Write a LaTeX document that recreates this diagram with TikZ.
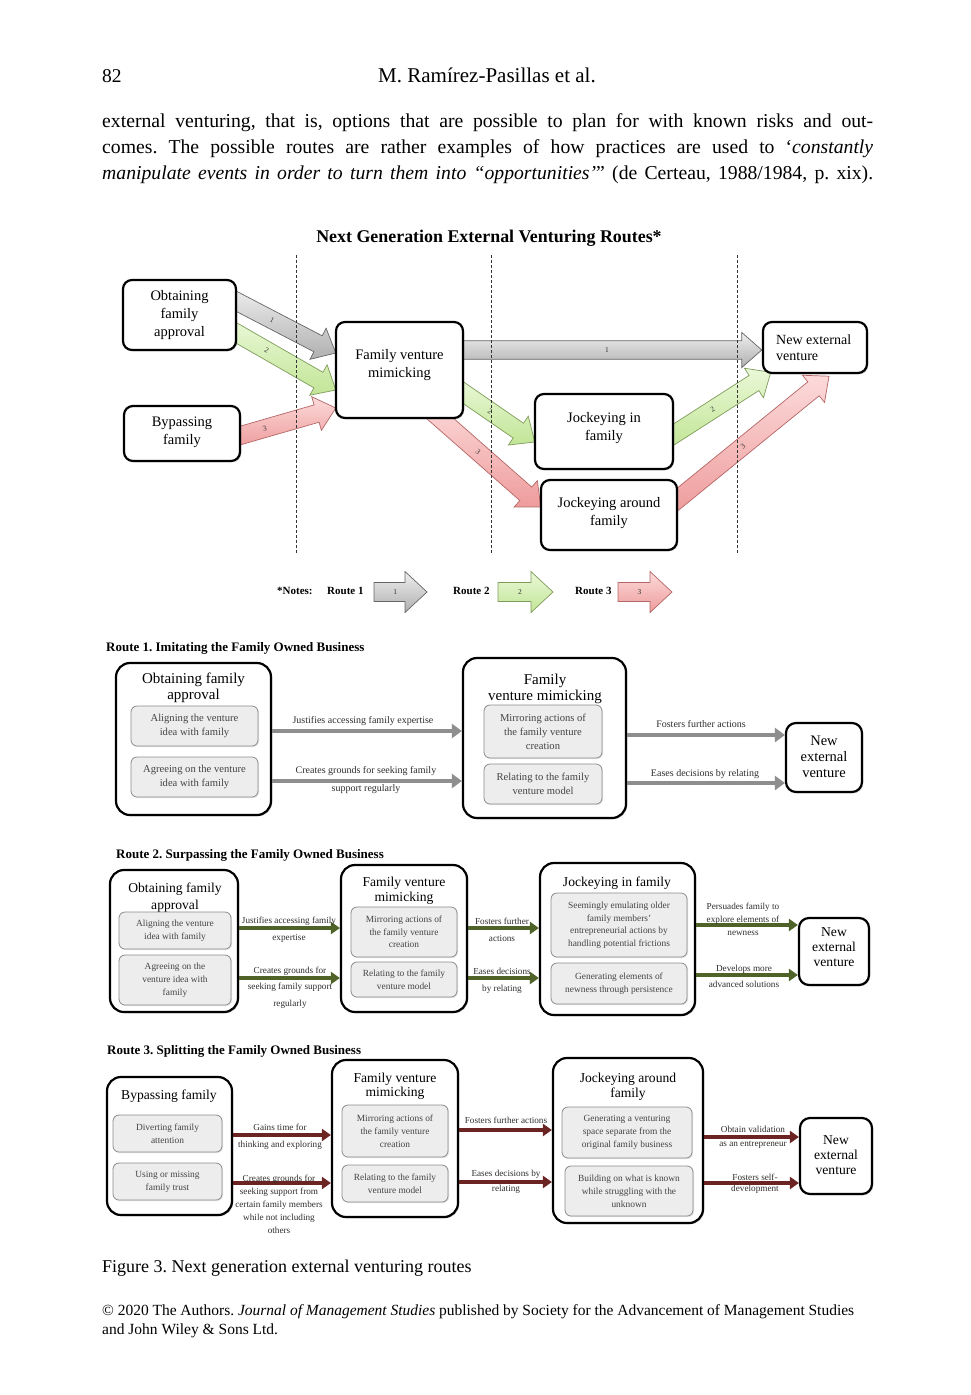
\documentclass[tikz,border=0pt]{standalone}
\usepackage{fontspec}
\setmainfont{Liberation Serif}
\usetikzlibrary{calc,arrows.meta,shadows}

\newcommand\fs[2]{\fontsize{#1}{#2}\selectfont}

\definecolor{routegray}{HTML}{8E8E8E}
\definecolor{routegreen}{HTML}{4F6228}
\definecolor{routered}{HTML}{6B2422}
\definecolor{innertext}{HTML}{444444}
\definecolor{labeltext}{HTML}{2E2E2E}
\definecolor{grayA}{HTML}{EFEFEF}
\definecolor{grayB}{HTML}{AFAFAF}
\definecolor{grayE}{HTML}{666666}
\definecolor{greenA}{HTML}{EAF8D8}
\definecolor{greenB}{HTML}{C2E596}
\definecolor{greenE}{HTML}{7F9C5A}
\definecolor{redA}{HTML}{FCDADA}
\definecolor{redB}{HTML}{EE9C9C}
\definecolor{redE}{HTML}{B56666}

% block arrow: style, start, tip, label, label position (fraction),
% half shaft width, half head width, head length, label node name
\newcommand\blockarrow[9]{%
  \path #2 coordinate (bas) #3 coordinate (bae);
  \pgfpointdiff{\pgfpointanchor{bas}{center}}{\pgfpointanchor{bae}{center}}%
  \pgfgetlastxy{\badx}{\bady}%
  \pgfmathsetmacro\baang{atan2(\bady,\badx)}%
  \pgfmathsetmacro\balen{veclen(\badx,\bady)}%
  \pgfmathsetmacro\babase{\balen-#8}%
  \pgfmathsetmacro\balab{\balen*#5}%
  \begin{scope}[shift={(bas)},rotate=\baang]
    \draw[#1] (0pt,-#6pt) -- (\babase pt,-#6pt) -- (\babase pt,-#7pt)
      -- (\balen pt,0pt) -- (\babase pt,#7pt) -- (\babase pt,#6pt)
      -- (0pt,#6pt) -- cycle;
    \node[font=\fs{7.5}{8}, text=black!80, transform shape, inner sep=0pt] (#9) at (\balab pt,0pt) {#4};
  \end{scope}
}

\tikzset{
  softshadow/.style={drop shadow={shadow xshift=1.3pt,shadow yshift=-1.3pt,opacity=0.3}},
  topbox/.style={draw, line width=2.2pt, rounded corners=9pt, fill=white, softshadow, inner sep=0pt},
  toptext/.style={align=center, font=\fs{14.5}{18}, inner sep=0pt},
  outerbox/.style={draw, line width=2.2pt, rounded corners=14pt, fill=white, softshadow, inner sep=0pt},
  nevbox/.style={draw, line width=2.2pt, rounded corners=10pt, fill=white, softshadow, inner sep=0pt},
  innerbox/.style={draw=black!45, line width=0.8pt, rounded corners=6pt, fill=black!7,
    align=center, text=innertext, inner sep=0pt,
    drop shadow={shadow xshift=1pt,shadow yshift=-1pt,opacity=0.22}},
  boxtitle/.style={align=center, inner sep=0pt},
  arrowlabel/.style={align=center, inner sep=0pt, text=labeltext},
  grayblk/.style={draw=grayE, line width=0.7pt, top color=grayA, bottom color=grayB},
  greenblk/.style={draw=greenE, line width=0.7pt, top color=greenA, bottom color=greenB},
  redblk/.style={draw=redE, line width=0.7pt, top color=redA, bottom color=redB},
  r1arrow/.style={draw=routegray, line width=4.5pt, -{Triangle[length=10pt,width=14pt]}},
  r2arrow/.style={draw=routegreen, line width=3.8pt, -{Triangle[length=9pt,width=12pt]}},
  r3arrow/.style={draw=routered, line width=3.8pt, -{Triangle[length=9pt,width=12pt]}},
  routetitle/.style={anchor=mid west, inner sep=0pt, font=\bfseries\fs{13}{15}},
  divider/.style={dashed, dash pattern=on 3pt off 2pt, line width=0.6pt, black!80}
}

\begin{document}
\frenchspacing
\begin{tikzpicture}[x=1pt,y=-1pt]
\useasboundingbox (0,0) rectangle (970,1395);
\fill[white] (0,0) rectangle (970,1395);

% ---------- page header and running text ----------
\node[anchor=mid west, inner sep=0pt, font=\fs{19.5}{24}] (pgnum) at (102,80) {82};
\node[inner sep=0pt, anchor=mid, font=\fs{21}{24}] (runhead) at (487,80) {M. Ramírez-Pasillas et al.};
\node[anchor=mid west, inner sep=0pt, font=\fs{19.7}{26}] (body1) at (102,125)
  {\makebox[771pt][s]{external venturing, that is, options that are possible to plan for with known risks and out-}};
\node[anchor=mid west, inner sep=0pt, font=\fs{19.7}{26}] (body2) at (102,151)
  {\makebox[771pt][s]{comes. The possible routes are rather examples of how practices are used to ‘\textit{constantly}}};
\node[anchor=mid west, inner sep=0pt, font=\fs{19.7}{26}] (body3) at (102,177)
  {\makebox[771pt][s]{\textit{manipulate events in order to turn them into “opportunities’}” (de Certeau, 1988/1984, p. xix).}};

% ---------- overview diagram ----------
\node[inner sep=0pt, font=\bfseries\fs{17.9}{20}] (figtitle) at (489,238) {Next Generation External Venturing Routes*};

\coordinate (ofa-c) at (179.5,315);
\coordinate (byp-c) at (182,433.5);
\coordinate (fvm-c) at (399.5,370);
\coordinate (nev-c) at (815,347.5);
\coordinate (jif-c) at (604,431.5);
\coordinate (jaf-c) at (609,515);

% invisible frames first, so the arrows can refer to them
\path (ofa-c) node[minimum width=113pt, minimum height=70pt, inner sep=0pt] (ofa) {};
\path (byp-c) node[minimum width=116pt, minimum height=55pt, inner sep=0pt] (byp) {};
\path (fvm-c) node[minimum width=127pt, minimum height=96pt, inner sep=0pt] (fvm) {};
\path (nev-c) node[minimum width=104pt, minimum height=51pt, inner sep=0pt] (nev) {};
\path (jif-c) node[minimum width=138pt, minimum height=75pt, inner sep=0pt] (jif) {};
\path (jaf-c) node[minimum width=136pt, minimum height=70pt, inner sep=0pt] (jaf) {};

% route arrows
\blockarrow{grayblk}{($(ofa.east)+(-12,-20)$)}{($(fvm.west)+(0,-17)$)}{1}{0.43}{9}{17.5}{20}{ga1}
\blockarrow{greenblk}{($(ofa.east)+(-12,11)$)}{($(fvm.west)+(0,20)$)}{2}{0.38}{9}{17.5}{20}{gb1}
\blockarrow{redblk}{($(byp.east)+(-12,5.5)$)}{($(fvm.west)+(0,38)$)}{3}{0.34}{9}{17.5}{20}{rc1}
\blockarrow{grayblk}{($(fvm.east)+(-8,-20)$)}{($(nev.west)+(-1,2.5)$)}{1}{0.495}{9.3}{17.5}{20}{ga2}
\blockarrow{greenblk}{($(fvm.east)+(-11,15)$)}{($(jif.west)+(0,10.5)$)}{2}{0.46}{9}{17.5}{20}{gb2}
\blockarrow{redblk}{($(fvm.south)+(25.5,-13)$)}{($(jaf.west)+(0,-8)$)}{3}{0.46}{9}{17.5}{20}{rc2}
\blockarrow{greenblk}{($(jif.east)+(-8,8.5)$)}{($(nev.south west)+(8,-1)$)}{2}{0.45}{9}{17.5}{20}{gb3}
\blockarrow{redblk}{($(jaf.east)+(-9,-8)$)}{($(nev.south)+(14,3)$)}{3}{0.466}{9}{17.5}{20}{rc3}

% stage dividers
\draw[divider] (296,255) -- (296,553);
\draw[divider] (491,255) -- (491,553);
\draw[divider] (737,255) -- (737,553);

% boxes
\node[topbox, minimum width=113pt, minimum height=70pt] (ofa-b) at (ofa-c) {};
\node[topbox, minimum width=116pt, minimum height=55pt] (byp-b) at (byp-c) {};
\node[topbox, minimum width=127pt, minimum height=96pt] (fvm-b) at (fvm-c) {};
\node[topbox, minimum width=104pt, minimum height=51pt] (nev-b) at (nev-c) {};
\node[topbox, minimum width=138pt, minimum height=75pt] (jif-b) at (jif-c) {};
\node[topbox, minimum width=136pt, minimum height=70pt] (jaf-b) at (jaf-c) {};

\node[toptext] (ofa-t) at (179.5,315) {Obtaining\\family\\approval};
\node[toptext] (byp-t) at (182,432) {Bypassing\\family};
\node[toptext] (fvm-t) at (399.5,365) {Family venture\\mimicking};
\node[toptext, align=left, anchor=west, font=\fs{14}{16}] (nev-t) at (776,348) {New external\\venture};
\node[toptext] (jif-t) at (604,428) {Jockeying in\\family};
\node[toptext] (jaf-t) at (609,513) {Jockeying around\\family};

% legend
\node[anchor=mid west, inner sep=0pt, font=\bfseries\fs{11}{13}] (notes) at (277,592) {*Notes:};
\node[anchor=mid west, inner sep=0pt, font=\bfseries\fs{11}{13}] (lg-r1) at (327,592) {Route 1};
\node[anchor=mid west, inner sep=0pt, font=\bfseries\fs{11}{13}] (lg-r2) at (453,592) {Route 2};
\node[anchor=mid west, inner sep=0pt, font=\bfseries\fs{11}{13}] (lg-r3) at (575,592) {Route 3};
\coordinate (lg1s) at (374,592); \coordinate (lg1e) at (427,592);
\coordinate (lg2s) at (498,592); \coordinate (lg2e) at (553,592);
\coordinate (lg3s) at (618,592); \coordinate (lg3e) at (672,592);
\blockarrow{grayblk}{(lg1s)}{(lg1e)}{1}{0.4}{9.5}{20.5}{22}{lg1}
\blockarrow{greenblk}{(lg2s)}{(lg2e)}{2}{0.4}{9.5}{20.5}{22}{lg2}
\blockarrow{redblk}{(lg3s)}{(lg3e)}{3}{0.4}{9.5}{20.5}{22}{lg3}

% ---------- Route 1 ----------
\node[routetitle] (rt1) at (106,649) {Route 1. Imitating the Family Owned Business};

\node[outerbox, minimum width=155pt, minimum height=152pt] (o1) at (193.5,739) {};
\node[outerbox, minimum width=163pt, minimum height=160pt] (f1) at (544.5,738) {};
\node[nevbox, minimum width=76pt, minimum height=69pt] (n1) at (824,757.5) {};

\node[boxtitle, font=\fs{15}{16.5}] (o1-t) at (193.5,688) {Obtaining family\\approval};
\node[boxtitle, font=\fs{15}{16.5}] (f1-t) at (545,689) {Family\\venture mimicking};
\node[boxtitle, font=\fs{14.5}{16}] (n1-t) at (824,757) {New\\external\\venture};

\node[innerbox, font=\fs{10.6}{14}, minimum width=127pt, minimum height=40pt] (i11) at (194.5,726) {Aligning the venture\\idea with family};
\node[innerbox, font=\fs{10.6}{14}, minimum width=127pt, minimum height=40pt] (i12) at (194.5,777) {Agreeing on the venture\\idea with family};
\node[innerbox, font=\fs{10.6}{14}, minimum width=118pt, minimum height=53pt] (i13) at (543,731.5) {Mirroring actions of\\the family venture\\creation};
\node[innerbox, font=\fs{10.6}{14}, minimum width=118pt, minimum height=40pt] (i14) at (543,784) {Relating to the family\\venture model};

\draw[r1arrow] (o1.east |- 0,731) -- (f1.west |- 0,731);
\draw[r1arrow] (o1.east |- 0,781) -- (f1.west |- 0,781);
\draw[r1arrow] (f1.east |- 0,735) -- (n1.west |- 0,735);
\draw[r1arrow] (f1.east |- 0,783) -- (n1.west |- 0,783);

\node[arrowlabel, font=\fs{10}{18}] (l11) at (363,721) {Justifies accessing family expertise};
\node[arrowlabel, font=\fs{10}{18}] (l12) at (366,780) {Creates grounds for seeking family\\support regularly};
\node[arrowlabel, font=\fs{10}{18}] (l13) at (701,724) {Fosters further actions};
\node[arrowlabel, font=\fs{10}{18}] (l14) at (705,774) {Eases decisions by relating};

% ---------- Route 2 ----------
\node[routetitle] (rt2) at (116,856) {Route 2. Surpassing the Family Owned Business};

\node[outerbox, minimum width=128pt, minimum height=142pt] (o2) at (174,941) {};
\node[outerbox, minimum width=126pt, minimum height=147pt] (f2) at (404,938.5) {};
\node[outerbox, minimum width=155pt, minimum height=152pt] (j2) at (617.5,939) {};
\node[nevbox, minimum width=70pt, minimum height=67pt] (n2) at (834,951.5) {};

\node[boxtitle, font=\fs{13.6}{17}] (o2-t) at (175,898) {Obtaining family\\approval};
\node[boxtitle, font=\fs{13.6}{15}] (f2-t) at (404,891) {Family venture\\mimicking};
\node[boxtitle, font=\fs{13.6}{15}] (j2-t) at (617,883.5) {Jockeying in family};
\node[boxtitle, font=\fs{13.6}{15}] (n2-t) at (834,947) {New\\external\\venture};

\node[innerbox, font=\fs{9.4}{13}, minimum width=112pt, minimum height=37pt] (i21) at (175,930.5) {Aligning the venture\\idea with family};
\node[innerbox, font=\fs{9.4}{13}, minimum width=112pt, minimum height=50pt] (i22) at (175,980) {Agreeing on the\\venture idea with\\family};
\node[innerbox, font=\fs{9.4}{12.5}, minimum width=106pt, minimum height=50pt] (i23) at (404,932) {Mirroring actions of\\the family venture\\creation};
\node[innerbox, font=\fs{9.4}{12.5}, minimum width=106pt, minimum height=35pt] (i24) at (404,979.5) {Relating to the family\\venture model};
\node[innerbox, font=\fs{9.4}{12.5}, minimum width=136pt, minimum height=64pt] (i25) at (619,925) {Seemingly emulating older\\family members'\\entrepreneurial actions by\\handling potential frictions};
\node[innerbox, font=\fs{9.4}{12.5}, minimum width=136pt, minimum height=41pt] (i26) at (619,983.5) {Generating elements of\\newness through persistence};

\draw[r2arrow] (o2.east |- 0,928) -- (f2.west |- 0,928);
\draw[r2arrow] (o2.east |- 0,978) -- (f2.west |- 0,978);
\draw[r2arrow] (f2.east |- 0,928) -- (j2.west |- 0,928);
\draw[r2arrow] (f2.east |- 0,978) -- (j2.west |- 0,978);
\draw[r2arrow] (j2.east |- 0,925) -- (n2.west |- 0,925);
\draw[r2arrow] (j2.east |- 0,975) -- (n2.west |- 0,975);

\node[arrowlabel, font=\fs{9.2}{17}] (l21) at (289,929.5) {Justifies accessing family\\expertise};
\node[arrowlabel, font=\fs{9.2}{16.5}] (l22) at (290,987.5) {Creates grounds for\\seeking family support\\regularly};
\node[arrowlabel, font=\fs{9.2}{17}] (l23) at (502,929.5) {Fosters further\\actions};
\node[arrowlabel, font=\fs{9.2}{17}] (l24) at (502,980.5) {Eases decisions\\by relating};
\node[arrowlabel, font=\fs{9.2}{13}] (l25) at (743,919) {Persuades family to\\explore elements of\\newness};
\node[arrowlabel, font=\fs{9.2}{16}] (l26) at (744,976) {Develops more\\advanced solutions};

% ---------- Route 3 ----------
\node[routetitle] (rt3) at (107,1052) {Route 3. Splitting the Family Owned Business};

\node[outerbox, minimum width=125pt, minimum height=138pt] (o3) at (169.5,1146) {};
\node[outerbox, minimum width=126pt, minimum height=157pt] (f3) at (395,1138.5) {};
\node[outerbox, minimum width=150pt, minimum height=165pt] (j3) at (628,1140.5) {};
\node[nevbox, minimum width=72pt, minimum height=76pt] (n3) at (836,1156) {};

\node[boxtitle, font=\fs{13.6}{15}] (o3-t) at (169,1096.5) {Bypassing family};
\node[boxtitle, font=\fs{13.6}{14}] (f3-t) at (395,1086.5) {Family venture\\mimicking};
\node[boxtitle, font=\fs{13.6}{15}] (j3-t) at (628,1087) {Jockeying around\\family};
\node[boxtitle, font=\fs{13.6}{15}] (n3-t) at (836,1155) {New\\external\\venture};

\node[innerbox, font=\fs{9.4}{13}, minimum width=109pt, minimum height=37pt] (i31) at (167.5,1133.5) {Diverting family\\attention};
\node[innerbox, font=\fs{9.4}{13}, minimum width=109pt, minimum height=37pt] (i32) at (167.5,1181.5) {Using or missing\\family trust};
\node[innerbox, font=\fs{9.4}{13}, minimum width=106pt, minimum height=52pt] (i33) at (395,1131) {Mirroring actions of\\the family venture\\creation};
\node[innerbox, font=\fs{9.4}{13}, minimum width=106pt, minimum height=37pt] (i34) at (395,1183.5) {Relating to the family\\venture model};
\node[innerbox, font=\fs{9.4}{13}, minimum width=130pt, minimum height=51pt] (i35) at (627,1132.5) {Generating a venturing\\space separate from the\\original family business};
\node[innerbox, font=\fs{9.4}{13}, minimum width=128pt, minimum height=50pt] (i36) at (629,1191) {Building on what is known\\while struggling with the\\unknown};

\draw[r3arrow] (o3.east |- 0,1135) -- (f3.west |- 0,1135);
\draw[r3arrow] (o3.east |- 0,1183) -- (f3.west |- 0,1183);
\draw[r3arrow] (f3.east |- 0,1130) -- (j3.west |- 0,1130);
\draw[r3arrow] (f3.east |- 0,1182) -- (j3.west |- 0,1182);
\draw[r3arrow] (j3.east |- 0,1137) -- (n3.west |- 0,1137);
\draw[r3arrow] (j3.east |- 0,1183) -- (n3.west |- 0,1183);

\node[arrowlabel, font=\fs{9.2}{17}] (l31) at (280,1136.5) {Gains time for\\thinking and exploring};
\node[arrowlabel, font=\fs{9.2}{13}] (l32) at (279,1204) {Creates grounds for\\seeking support from\\certain family members\\while not including\\others};
\node[arrowlabel, font=\fs{9.2}{13}, anchor=mid] (l33) at (506,1121) {Fosters further actions};
\node[arrowlabel, font=\fs{9.2}{15}] (l34) at (506,1181.5) {Eases decisions by\\relating};
\node[arrowlabel, font=\fs{9.2}{14}] (l35) at (753,1137) {Obtain validation\\as an entrepreneur};
\node[arrowlabel, font=\fs{9.2}{11}] (l36) at (755,1183.5) {Fosters self-\\development};

% ---------- caption and footer ----------
\node[anchor=mid west, inner sep=0pt, font=\fs{18}{20}] (caption) at (102,1270) {Figure 3. Next generation external venturing routes};
\node[anchor=mid west, inner sep=0pt, font=\fs{15.5}{19}] (foot1) at (102,1313)
  {\makebox[752pt][s]{© 2020 The Authors. \textit{Journal of Management Studies} published by Society for the Advancement of Management Studies}};
\node[anchor=mid west, inner sep=0pt, font=\fs{15.5}{19}] (foot2) at (102,1332) {and John Wiley \& Sons Ltd.};
\end{tikzpicture}
\end{document}
